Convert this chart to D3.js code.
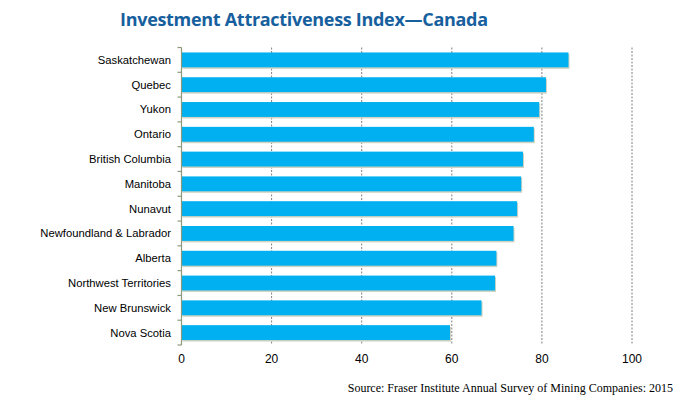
<!DOCTYPE html>
<html>
<head>
<meta charset="utf-8">
<script src="https://cdn.jsdelivr.net/npm/d3@7"></script>
<style>
  body { margin: 0; background: #fff; }
  svg { display: block; }
</style>
</head>
<body>
<script>
// chart data
var provinces = ['Saskatchewan', 'Quebec', 'Yukon', 'Ontario', 'British Columbia', 'Manitoba',
  'Nunavut', 'Newfoundland & Labrador', 'Alberta', 'Northwest Territories', 'New Brunswick', 'Nova Scotia'];
var scores = [85.9, 80.9, 79.4, 78.2, 75.8, 75.4, 74.5, 73.7, 69.9, 69.6, 66.6, 59.6];
var xTicks = [0, 20, 40, 60, 80, 100];

var w = 692, h = 403;
// plot edges (don't use "top" - clashes with window.top)
var plotLeft = 181.5, plotRight = 632, plotTop = 47.5, plotBottom = 345;

var svg = d3.select('body').append('svg').attr('width', w).attr('height', h);

var x = d3.scaleLinear().domain([0, 100]).range([plotLeft, plotRight]);
var y = d3.scaleBand().domain(provinces).range([plotTop, plotBottom]).paddingInner(0.4).paddingOuter(0.2);

// title
svg.append('text')
  .attr('x', 120).attr('y', 26)
  .attr('textLength', 368)
  .style('font-family', 'Open Sans, sans-serif')
  .style('font-weight', 'bold')
  .style('font-size', '18px')
  .style('fill', '#17609e')
  .text('Investment Attractiveness Index\u2014Canada');

// dashed gridlines
svg.selectAll('.grid').data(xTicks.slice(1))
  .enter().append('line')
  .attr('x1', function(d) { return x(d); })
  .attr('x2', function(d) { return x(d); })
  .attr('y1', plotTop).attr('y2', plotBottom)
  .style('stroke', '#808080')
  .style('stroke-width', 1)
  .style('stroke-dasharray', '2,1.5');

// bar shadows
svg.selectAll('.shadow').data(scores)
  .enter().append('rect')
  .attr('x', x(0) + 1)
  .attr('y', function(d, i) { return y(provinces[i]) + 1.5; })
  .attr('width', function(d) { return x(d) - x(0); })
  .attr('height', y.bandwidth())
  .style('fill', '#cfd3c2');

// bars
svg.selectAll('.bar').data(scores)
  .enter().append('rect')
  .attr('x', x(0))
  .attr('y', function(d, i) { return y(provinces[i]); })
  .attr('width', function(d) { return x(d) - x(0); })
  .attr('height', y.bandwidth())
  .style('fill', '#00b0f0');

// left axis line and ticks between categories
var axisColor = '#8e9a7c';
svg.append('line')
  .attr('x1', plotLeft).attr('x2', plotLeft)
  .attr('y1', plotTop).attr('y2', plotBottom)
  .style('stroke', axisColor).style('stroke-width', 1.2);

var step = y.step();
svg.selectAll('.ytick').data(d3.range(provinces.length + 1))
  .enter().append('line')
  .attr('x1', plotLeft - 4).attr('x2', plotLeft)
  .attr('y1', function(d) { return plotTop + d * step; })
  .attr('y2', function(d) { return plotTop + d * step; })
  .style('stroke', axisColor).style('stroke-width', 1.2);

// category labels
svg.selectAll('.label').data(provinces)
  .enter().append('text')
  .attr('x', 171)
  .attr('y', function(d) { return y(d) + y.bandwidth() / 2; })
  .attr('dy', '0.35em')
  .attr('text-anchor', 'end')
  .style('font-family', 'Liberation Sans, Arial, sans-serif')
  .style('font-size', '11.25px')
  .style('fill', '#000')
  .text(function(d) { return d; });

// x tick labels
svg.selectAll('.xlabel').data(xTicks)
  .enter().append('text')
  .attr('x', function(d) { return x(d); })
  .attr('y', 363)
  .attr('text-anchor', 'middle')
  .style('font-family', 'Liberation Sans, Arial, sans-serif')
  .style('font-size', '12px')
  .style('fill', '#000')
  .text(function(d) { return d; });

// source note
svg.append('text')
  .attr('x', 673).attr('y', 392)
  .attr('text-anchor', 'end')
  .style('font-family', 'Liberation Serif, Times New Roman, serif')
  .style('font-size', '12px')
  .style('fill', '#000')
  .text('Source: Fraser Institute Annual Survey of Mining Companies: 2015');
</script>
</body>
</html>
